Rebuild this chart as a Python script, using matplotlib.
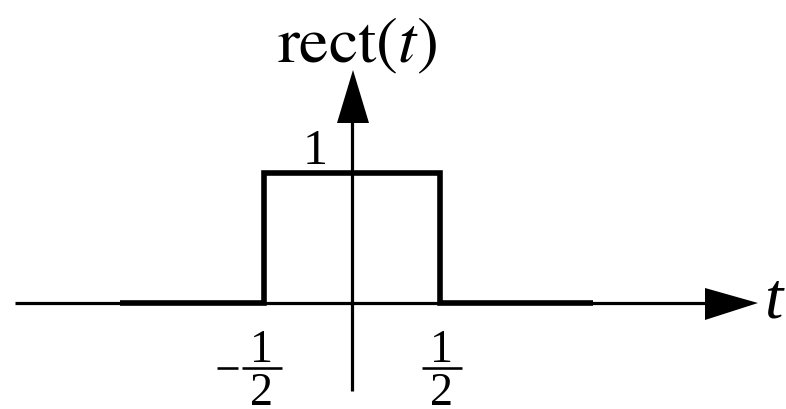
import matplotlib
matplotlib.use("Agg")
import matplotlib.pyplot as plt

# rect(t): unit pulse of height 1 on [-1/2, 1/2]
t_values = [-1.32, -0.5, -0.5, 0.5, 0.5, 1.37]
rect_values = [0, 0, 1, 1, 0, 0]
pulse_height_label = "1"
edge_ticks = [-0.5, 0.5]

# pixel layout of the drawing
W, H, DPI = 786, 409, 100
X0, SX = 352, 176      # pixel column of t=0, pixels per unit t
Y0, SY = 303, 130      # pixel row of rect=0, pixels per unit height


def tx(px):
    return (px - X0) / SX


def vy(py):
    return (Y0 - py) / SY


def pt(px):
    return px * 72 / DPI


plt.rcParams["mathtext.fontset"] = "stix"
serif = ["Liberation Serif", "DejaVu Serif"]

fig = plt.figure(figsize=(W / DPI, H / DPI), dpi=DPI)
ax = fig.add_axes([0, 0, 1, 1])
ax.set_xlim(tx(0), tx(W))
ax.set_ylim(vy(H), vy(0))
ax.axis("off")

thin = pt(3.2)
thick = pt(5.6)

# horizontal axis with arrowhead
ax.plot([tx(15), tx(706)], [0, 0], color="black", lw=thin, solid_capstyle="butt")
ax.fill([tx(705), tx(758), tx(705)], [vy(288), 0, vy(320)], color="black", lw=0)

# vertical axis with arrowhead
ax.plot([0, 0], [vy(391), vy(122)], color="black", lw=thin, solid_capstyle="butt")
ax.fill([tx(337), tx(353), tx(369)], [vy(123), vy(70), vy(123)], color="black", lw=0)

# the pulse
ax.plot(t_values, rect_values, color="black", lw=thick,
        solid_capstyle="butt", solid_joinstyle="miter")

# axis labels
ax.text(tx(357), vy(62), r"$\mathrm{rect}(t)$", fontsize=pt(66),
        ha="center", va="baseline")
ax.text(tx(764), vy(318), "t", fontsize=pt(66), family=serif, style="italic",
        ha="left", va="baseline")

# height label
ax.text(tx(315), vy(164), pulse_height_label, fontsize=pt(50), family=serif,
        ha="center", va="baseline")

# fraction labels at the pulse edges
frac_size = pt(46)
for t in edge_ticks:
    c = t + (-0.014 if t < 0 else 0.011)
    half = 20 / SX
    ax.plot([c - half, c + half], [vy(368), vy(368)], color="black",
            lw=pt(2.6), solid_capstyle="butt")
    ax.text(c, vy(362), "1", fontsize=frac_size, family=serif,
            ha="center", va="baseline")
    ax.text(c, vy(405), "2", fontsize=frac_size, family=serif,
            ha="center", va="baseline")
    if t < 0:
        ax.plot([tx(217), tx(238)], [vy(368), vy(368)], color="black",
                lw=pt(2.6), solid_capstyle="butt")

fig.savefig("out.png", dpi=DPI, facecolor="white")
